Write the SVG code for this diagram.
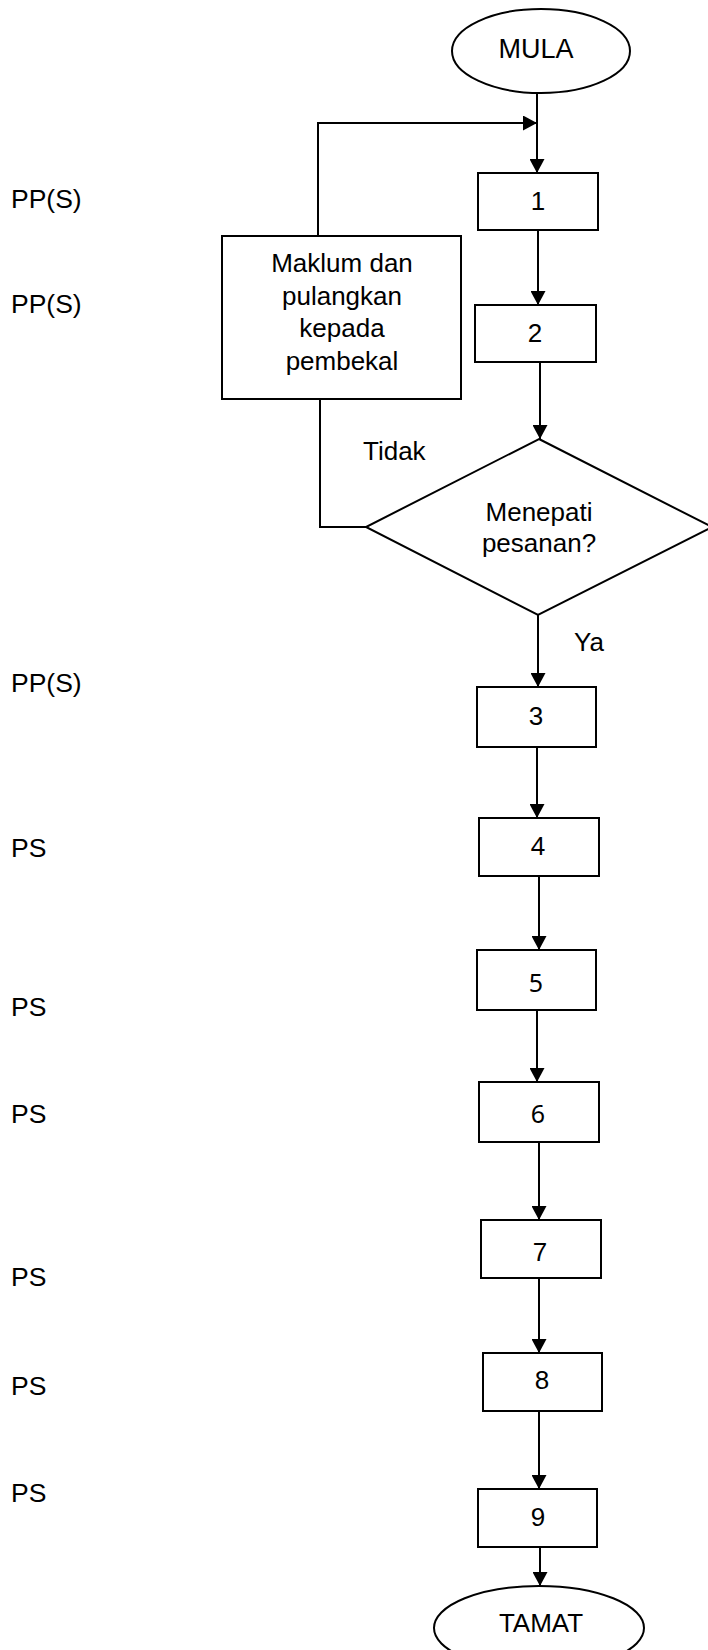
<svg xmlns="http://www.w3.org/2000/svg" width="708" height="1650" viewBox="0 0 708 1650">
<style>
.s{fill:#fff;stroke:#000;stroke-width:2}
.c{fill:none;stroke:#000;stroke-width:2}
text{font-family:"Liberation Sans",Arial,sans-serif;font-size:26px;fill:#000}
.m{text-anchor:middle}
.t{font-size:27px}
.d{font-size:26px}
.n{font-family:"Noto Sans","Liberation Sans",sans-serif;font-size:25px}
.l{font-size:26.5px}
</style>
<defs>
<marker id="ah" viewBox="0 0 14 15" refX="14" refY="7.5" markerWidth="14" markerHeight="15" markerUnits="userSpaceOnUse" orient="auto">
<path d="M0,0 L14,7.5 L0,15 z" fill="#000"/>
</marker>
</defs>
<g id="connectors">
<path class="c" d="M537,93 V173" marker-end="url(#ah)"/>
<path class="c" d="M318,236 V123 H537" marker-end="url(#ah)"/>
<path class="c" d="M538,230 V305" marker-end="url(#ah)"/>
<path class="c" d="M540,362 V439" marker-end="url(#ah)"/>
<path class="c" d="M366,527 H320 V399"/>
<path class="c" d="M538,615 V687" marker-end="url(#ah)"/>
<path class="c" d="M537,748 V818" marker-end="url(#ah)"/>
<path class="c" d="M539,877 V950" marker-end="url(#ah)"/>
<path class="c" d="M537,1010 V1082" marker-end="url(#ah)"/>
<path class="c" d="M539,1142 V1220" marker-end="url(#ah)"/>
<path class="c" d="M539,1278 V1353" marker-end="url(#ah)"/>
<path class="c" d="M539,1411 V1489" marker-end="url(#ah)"/>
<path class="c" d="M540,1547 V1586" marker-end="url(#ah)"/>
</g>
<g id="mula"><ellipse class="s" cx="541" cy="51" rx="89" ry="42"/><text class="m t" x="536" y="58">MULA</text></g>
<g id="n1"><rect class="s" x="478" y="173" width="120" height="57"/><text class="m d" x="538" y="210">1</text></g>
<g id="n2"><rect class="s" x="475" y="305" width="121" height="57"/><text class="m d" x="535" y="342">2</text></g>
<g id="maklum"><rect class="s" x="222" y="236" width="239" height="163"/>
<text class="m" x="342" y="272">Maklum dan</text>
<text class="m" x="342" y="305">pulangkan</text>
<text class="m" x="342" y="337">kepada</text>
<text class="m" x="342" y="370">pembekal</text></g>
<g id="decision"><path class="s" d="M539,439 L712,527 L538,615 L366,527 Z"/>
<text class="m" x="539" y="521">Menepati</text>
<text class="m" x="539" y="552">pesanan?</text></g>
<g id="lbl-tidak"><text x="363" y="460">Tidak</text></g>
<g id="lbl-ya"><text x="574" y="651">Ya</text></g>
<g id="n3"><rect class="s" x="477" y="687" width="119" height="60"/><text class="m d" x="536" y="725">3</text></g>
<g id="n4"><rect class="s" x="479" y="818" width="120" height="58"/><text class="m n" x="538" y="855">4</text></g>
<g id="n5"><rect class="s" x="477" y="950" width="119" height="60"/><text class="m n" x="536" y="992">5</text></g>
<g id="n6"><rect class="s" x="479" y="1082" width="120" height="60"/><text class="m n" x="538" y="1123">6</text></g>
<g id="n7"><rect class="s" x="481" y="1220" width="120" height="58"/><text class="m d" x="540" y="1261">7</text></g>
<g id="n8"><rect class="s" x="483" y="1353" width="119" height="58"/><text class="m d" x="542" y="1389">8</text></g>
<g id="n9"><rect class="s" x="478" y="1489" width="119" height="58"/><text class="m d" x="538" y="1526">9</text></g>
<g id="tamat"><ellipse class="s" cx="539" cy="1628" rx="105" ry="42"/><text class="m" x="541" y="1632">TAMAT</text></g>
<g id="roles">
<text class="l" x="11" y="208">PP(S)</text>
<text class="l" x="11" y="313">PP(S)</text>
<text class="l" x="11" y="692">PP(S)</text>
<text class="l" x="11" y="857">PS</text>
<text class="l" x="11" y="1016">PS</text>
<text class="l" x="11" y="1123">PS</text>
<text class="l" x="11" y="1286">PS</text>
<text class="l" x="11" y="1395">PS</text>
<text class="l" x="11" y="1502">PS</text>
</g>
</svg>
